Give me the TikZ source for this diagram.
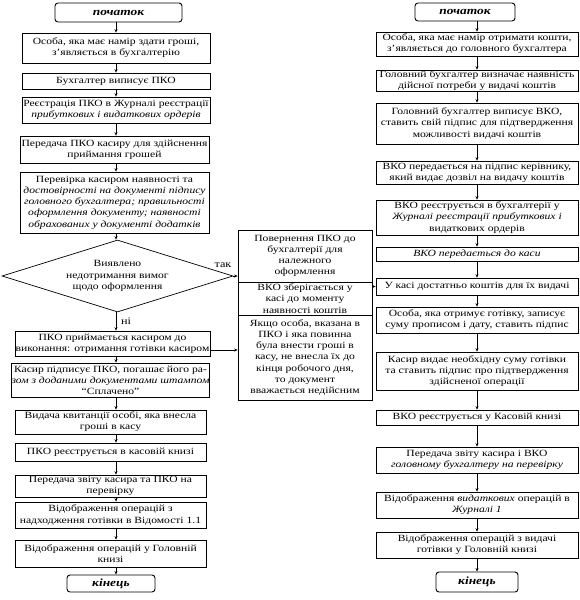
\documentclass[tikz,border=0pt]{standalone}
\usepackage{fontspec}
\setmainfont{Liberation Serif}[FakeStretch=1.22]
\usetikzlibrary{arrows.meta,shapes.geometric,calc}
\begin{document}
\begin{tikzpicture}[x=1pt,y=-1pt,
  box/.style={draw, line width=0.7pt, align=center, inner sep=0pt, font=\fontsize{9.5}{11.2}\selectfont},
  term/.style={draw, rounded corners=3pt, line width=0.9pt, inner sep=0pt, font=\fontsize{11}{12}\selectfont\bfseries\itshape},
  dec/.style={draw, diamond, aspect=3.2, line width=0.7pt, align=center, inner sep=0pt, font=\fontsize{9.5}{11.2}\selectfont},
  lbl/.style={inner sep=0pt, font=\fontsize{10}{11}\selectfont},
  arr/.style={-{Stealth[length=3.5pt,width=3pt]}, line width=0.6pt}]
\useasboundingbox (0,0) rectangle (580,600);
% left column
\node[term, minimum width=127, minimum height=19] (ls) at (118.5,12.5) {початок};
\node[box, minimum width=188, minimum height=30] (l1) at (116,48) {Особа, яка має намір здати гроші,\\з’являється в бухгалтерію};
\node[box, minimum width=188, minimum height=16] (l2) at (116,81) {Бухгалтер виписує ПКО};
\node[box, minimum width=188, minimum height=26] (l3) at (116,110) {Реєстрація ПКО в Журналі реєстрації\\\textit{прибуткових і видаткових ордерів}};
\node[box, minimum width=189, minimum height=27] (l4) at (114.5,149.5) {Передача ПКО касиру для здійснення\\приймання грошей};
\node[box, minimum width=189, minimum height=61] (l5) at (114.5,202.5) {Перевірка касиром наявності та\\\textit{достовірності на документі підпису}\\\textit{головного бухгалтера; правильності}\\\textit{оформлення документу; наявності}\\\textit{обрахованих у документі додатків}};
\node[dec, minimum width=231, minimum height=72] (d) at (117.5,276) {Виявлено\\недотримання вимог\\щодо оформлення};
\node[box, minimum width=195, minimum height=25] (l6) at (112.5,343.5) {ПКО приймається касиром до\\виконання: отримання готівки касиром};
\node[box, minimum width=191, minimum height=34] (l7) at (110.5,380) {Касир підписує ПКО, погашає його ра-\\\textit{зом з доданими документами штампом}\\“Сплачено”};
\node[box, minimum width=191, minimum height=24] (l8) at (110.5,422) {Видача квитанції особі, яка внесла\\гроші в касу};
\node[box, minimum width=191, minimum height=18] (l9) at (110.5,452) {ПКО реєструється в касовій книзі};
\node[box, minimum width=191, minimum height=22] (l10) at (110.5,486) {Передача звіту касира та ПКО на\\перевірку};
\node[box, minimum width=191, minimum height=26] (l11) at (110.5,515) {Відображення операцій з\\надходження готівки в Відомості 1.1};
\node[box, minimum width=191, minimum height=27] (l12) at (110.5,553.5) {Відображення операцій у Головній\\книзі};
\node[term, minimum width=88, minimum height=17] (le) at (111,583.5) {кінець};
% middle column
\node[box, minimum width=134, minimum height=52] (m1) at (305,256) {Повернення ПКО до\\бухгалтерії для\\належного\\оформлення};
\node[box, minimum width=134, minimum height=33] (m2) at (305,298.5) {ВКО зберігається у\\касі до моменту\\наявності коштів};
\node[box, minimum width=134, minimum height=85] (m3) at (305,357.5) {Якщо особа, вказана в\\ПКО і яка повинна\\була внести гроші в\\касу, не внесла їх до\\кінця робочого дня,\\то документ\\вважається недійсним};
% right column
\node[term, minimum width=100, minimum height=18] (rs) at (465,12) {початок};
\node[box, minimum width=202, minimum height=24] (r1) at (477,44) {Особа, яка має намір отримати кошти,\\з’являється до головного бухгалтера};
\node[box, minimum width=202, minimum height=21] (r2) at (477,80.5) {Головний бухгалтер визначає наявність\\дійсної потреби у видачі коштів};
\node[box, minimum width=202, minimum height=41] (r3) at (477,123.5) {Головний бухгалтер виписує ВКО,\\ставить свій підпис для підтвердження\\можливості видачі коштів};
\node[box, minimum width=202, minimum height=23] (r4) at (477,172.5) {ВКО передається на підпис керівнику,\\який видає дозвіл на видачу коштів};
\node[box, minimum width=202, minimum height=35] (r5) at (477,217.5) {ВКО реєструється в бухгалтерії у\\\textit{Журналі реєстрації прибуткових і}\\видаткових ордерів};
\node[box, minimum width=202, minimum height=14] (r6) at (477,254) {\textit{ВКО передається до каси}};
\node[box, minimum width=202, minimum height=17] (r7) at (477,286.5) {У касі достатньо коштів для їх видачі};
\node[box, minimum width=202, minimum height=26] (r8) at (477,320) {Особа, яка отримує готівку, записує\\суму прописом і дату, ставить підпис};
\node[box, minimum width=202, minimum height=38] (r9) at (477,371) {Касир видає необхідну суму готівки\\та ставить підпис про підтвердження\\здійсненої операції};
\node[box, minimum width=202, minimum height=15] (r10) at (477,417.5) {ВКО реєструється у Касовій книзі};
\node[box, minimum width=202, minimum height=26] (r11) at (477,460) {Передача звіту касира і ВКО\\\textit{головному бухгалтеру на перевірку}};
\node[box, minimum width=202, minimum height=26] (r12) at (477,505) {Відображення \textit{видаткових} операцій в\\\textit{Журналі 1}};
\node[box, minimum width=202, minimum height=26] (r13) at (477,545) {Відображення операцій з видачі\\готівки у Головній книзі};
\node[term, minimum width=82, minimum height=20] (re) at (477,582) {кінець};
% labels
\node[lbl] (tak) at (223,265) {так};
\node[lbl] (ni) at (126,321) {ні};
% arrows
\coordinate (la) at (116,0);
\coordinate (ra) at (477,0);
\coordinate (y6) at (0,350);
\foreach \a/\b in {ls/l1,l1/l2,l2/l3,l3/l4,l4/l5,l5/d,d/l6,l6/l7,l7/l8,l8/l9,l9/l10,l10/l11,l11/l12,l12/le}
  \draw[arr] (\a.south -| la) -- (\b.north -| la);
\foreach \a/\b in {rs/r1,r1/r2,r2/r3,r3/r4,r4/r5,r5/r6,r6/r7,r7/r8,r8/r9,r9/r10,r10/r11,r11/r12,r12/r13,r13/re}
  \draw[arr] (\a.south -| ra) -- (\b.north -| ra);
\draw[arr] (d.east) -- (d.east -| m1.west);
\draw[arr] (m2.east |- r7.west) -- (r7.west);
\draw[arr] (l6.east |- y6) -- (m3.west |- y6);
\end{tikzpicture}
\end{document}
